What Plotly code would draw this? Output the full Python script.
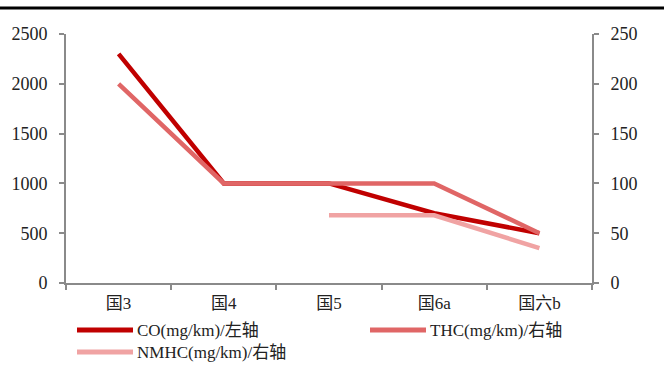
import plotly.graph_objects as go

categories = ["国3", "国4", "国5", "国6a", "国六b"]
co_values = [2300, 1000, 1000, 700, 500]
thc_values = [200, 100, 100, 100, 50]
nmhc_values = [None, None, 68, 68, 35]
left_ticks = [0, 500, 1000, 1500, 2000, 2500]
right_ticks = [0, 50, 100, 150, 200, 250]
series_names = ["CO(mg/km)/左轴", "THC(mg/km)/右轴", "NMHC(mg/km)/右轴"]
series_colors = ["#C00000", "#E06666", "#F0A3A3"]

font_fam = "Liberation Serif, Noto Sans CJK SC, serif"

L, R, T, B = 66, 72, 34, 95
W, H = 664, 378
PW, PH = W - L - R, H - T - B

def px_x(p):
    return (p - L) / PW

def px_y(p):
    return (H - B - p) / PH

fig = go.Figure()
for vals, name, color, ax in zip([co_values, thc_values, nmhc_values], series_names, series_colors,
                                 ["y", "y2", "y2"]):
    fig.add_trace(go.Scatter(x=categories, y=vals, name=name, mode="lines",
                             line=dict(color=color, width=4.5), yaxis=ax, connectgaps=False,
                             showlegend=False))

axis_common = dict(showgrid=False, zeroline=False, showline=True, linecolor="#8a8a8a", linewidth=2,
                   ticks="outside", ticklen=5, tickcolor="#8a8a8a", tickwidth=1.5)

fig.update_layout(
    width=W, height=H,
    margin=dict(l=L, r=R, t=T, b=B),
    plot_bgcolor="white", paper_bgcolor="white",
    xaxis=dict(**axis_common, type="category", tickson="boundaries", range=[-0.5, 4.5],
               ticklabelstandoff=4, tickfont=dict(family=font_fam, size=17, color="#222")),
    yaxis=dict(**axis_common, range=[0, 2500], tickvals=left_ticks, ticklabelstandoff=8,
               tickfont=dict(family=font_fam, size=18, color="#222")),
    yaxis2=dict(**axis_common, range=[0, 250], tickvals=right_ticks, overlaying="y", side="right",
                ticklabelstandoff=8, tickfont=dict(family=font_fam, size=18, color="#222")),
    showlegend=False,
)

# top rule
fig.add_shape(type="line", xref="paper", yref="paper",
              x0=px_x(0), x1=px_x(W), y0=px_y(8), y1=px_y(8),
              line=dict(color="black", width=3))

# custom legend
legend_pos = [(77, 330), (370, 330), (77, 352)]
for (lx, ly), name, color in zip(legend_pos, series_names, series_colors):
    fig.add_shape(type="line", xref="paper", yref="paper",
                  x0=px_x(lx), x1=px_x(lx + 56), y0=px_y(ly), y1=px_y(ly),
                  line=dict(color=color, width=5))
    fig.add_annotation(xref="paper", yref="paper", x=px_x(lx + 58), y=px_y(ly),
                       text=name, showarrow=False, xanchor="left", yanchor="middle",
                       font=dict(family=font_fam, size=17, color="#222"))

fig.write_html("out.html")
